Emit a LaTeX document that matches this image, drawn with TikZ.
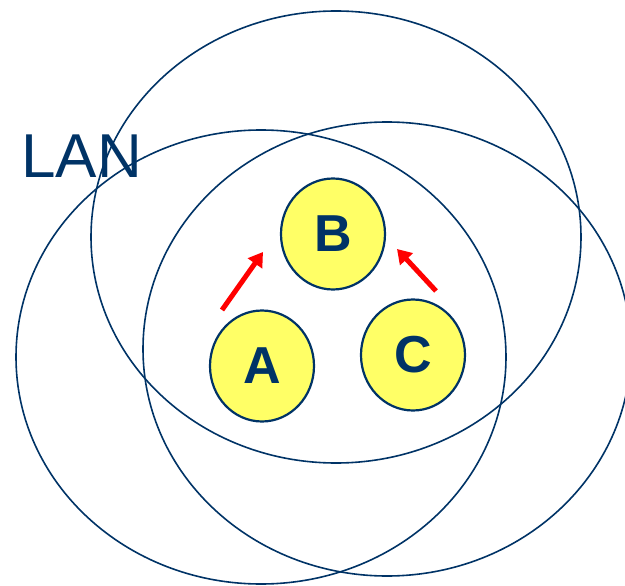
\documentclass[tikz,border=0pt]{standalone}
\usepackage{fontspec}
\setmainfont{Liberation Sans}
\usetikzlibrary{arrows.meta,shapes.geometric}
\definecolor{navy}{RGB}{0,51,102}
\definecolor{nodeyellow}{RGB}{255,255,102}
\begin{document}
\begin{tikzpicture}[x=1pt,y=-1pt,
  ring/.style={draw=navy,line width=1.6pt},
  station/.style={ellipse,draw=navy,line width=2.2pt,fill=nodeyellow,minimum width=104pt,minimum height=111pt,inner sep=0pt,font=\fontsize{52}{52}\selectfont\bfseries,text=navy},
  sendarrow/.style={draw=red,line width=5pt,-{Triangle[length=14pt,width=17pt]}}]
\useasboundingbox (0,0) rectangle (625,586);
\clip (0,0) rectangle (625,586);
\draw[ring] (336,237) ellipse [x radius=245, y radius=226];
\draw[ring] (261,357) ellipse [x radius=245, y radius=227];
\draw[ring] (387,349) ellipse [x radius=244, y radius=227];
\node[anchor=base west,inner sep=0pt,text=navy,font=\fontsize{62}{62}\selectfont] (lan) at (21,178) {LAN};
\node[station] (B) at (333,234) {B};
\node[station] (A) at (262,366) {A};
\node[station] (C) at (413,355) {C};
\coordinate (a1) at (222,310);
\coordinate (a2) at (263,252);
\coordinate (c1) at (436,291);
\coordinate (c2) at (397,249);
\draw[sendarrow] (a1) -- (a2);
\draw[sendarrow] (c1) -- (c2);
\end{tikzpicture}
\end{document}
